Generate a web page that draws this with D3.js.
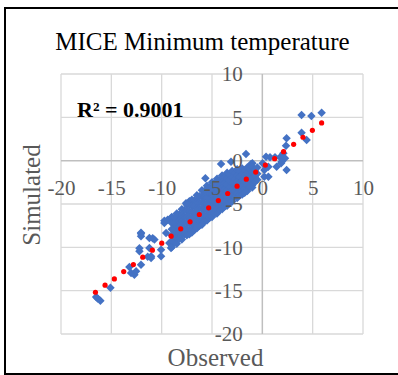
<!DOCTYPE html>
<html>
<head>
<meta charset="utf-8">
<script src="https://cdn.jsdelivr.net/npm/d3@7"></script>
<style>
  html, body { margin: 0; padding: 0; background: #fff; }
  svg { display: block; }
</style>
</head>
<body>
<svg id="chart" width="398" height="375"></svg>
<script>
// ---- data ----
const chartTitle = "MICE Minimum temperature";
const xLabel = "Observed";
const yLabel = "Simulated";
const r2Label = "R² = 0.9001";
const xTicks = [-20, -15, -10, -5, 0, 5, 10];
const yTicks = [-20, -15, -10, -5, 0, 5, 10];

// scattered points [observed, simulated]
const scatteredPoints = [
  [3.90,5.27],[4.87,5.16],[5.89,5.54],[3.90,3.23],[4.40,2.39],[2.41,2.58],[2.35,1.73],
  [2.09,0.85],[1.76,0.39],[1.26,0.39],[0.76,0.39],[2.25,0.28],[1.92,-0.12],[1.42,-0.69],
  [2.41,-1.07],[0.60,-0.69],[0.60,-1.85],[0.37,0.46],[0.03,-0.30],[0.20,-1.07],[0.20,-1.85],
  [1.86,-0.30],[-1.62,0.77],[-4.10,-0.38],[-3.11,-0.12],[-1.12,-0.38],[-0.99,-0.30],
  [-2.58,-1.27],[-5.66,-2.03],[-2.61,-1.45],[-7.58,-4.92],[-7.25,-4.69],[-9.07,-6.65],
  [-9.73,-6.92],[-10.89,-8.95],[-12.05,-8.31],[-12.21,-10.11],[-11.39,-11.08],
  [-16.51,-15.73],[-16.36,-15.90],[-16.09,-16.15],[-15.09,-14.67],[-13.21,-12.27],
  [-13.04,-12.96],[-12.71,-13.15],[-12.54,-12.76],[-12.05,-12.00],[-12.21,-10.45],
  [-12.05,-8.72],[-12.05,-8.42],[-11.22,-8.92],[-10.72,-9.11],[-11.22,-10.07],
  [-11.05,-11.03],[-11.05,-11.23],[-10.06,-10.27],[-10.06,-11.03],[-9.73,-7.19],
  [-9.40,-6.81],[-9.56,-8.34],[-9.24,-9.50],[-9.07,-10.07]
];

// dense cluster: observed value per column, simulated values in that column
const clusterObserved = [
  -9.0,-8.75,-8.5,-8.25,-8.0,-7.75,-7.5,-7.25,-7.0,-6.75,-6.5,-6.25,-6.0,-5.75,-5.5,-5.25,
  -5.0,-4.75,-4.5,-4.25,-4.0,-3.75,-3.5,-3.25,-3.0,-2.75,-2.5,-2.25,-2.0,-1.75,-1.5,-1.25,
  -1.0,-0.75,-0.5
];
const clusterSimulated = [
  [-6.5,-7.2,-7.9,-8.6,-9.3,-10.0],
  [-6.6,-7.3,-8.0,-8.7,-9.4],
  [-6.1,-6.8,-7.5,-8.2,-8.9,-9.6],
  [-6.2,-6.9,-7.6,-8.3,-9.0],
  [-5.6,-6.3,-7.0,-7.7,-8.4,-9.1],
  [-5.7,-6.4,-7.1,-7.8,-8.5],
  [-5.1,-5.8,-6.5,-7.2,-7.9,-8.6],
  [-5.1,-5.8,-6.5,-7.2,-7.9,-8.5],
  [-4.5,-5.2,-5.9,-6.6,-7.3,-8.0,-8.3],
  [-4.6,-5.3,-6.0,-6.7,-7.4,-8.0],
  [-4.0,-4.7,-5.4,-6.1,-6.8,-7.5,-7.8],
  [-4.1,-4.8,-5.5,-6.2,-6.9,-7.5],
  [-3.4,-4.1,-4.8,-5.5,-6.2,-6.9,-7.4],
  [-3.5,-4.2,-4.9,-5.6,-6.3,-7.0],
  [-2.9,-3.6,-4.3,-5.0,-5.7,-6.4,-6.9],
  [-3.1,-3.8,-4.5,-5.2,-5.9,-6.6],
  [-2.5,-3.2,-3.9,-4.6,-5.3,-6.0,-6.5],
  [-2.6,-3.3,-4.0,-4.7,-5.4,-6.1],
  [-2.1,-2.8,-3.5,-4.2,-4.9,-5.6,-6.1],
  [-2.3,-3.0,-3.7,-4.4,-5.1,-5.7],
  [-1.7,-2.4,-3.1,-3.8,-4.5,-5.2,-5.6],
  [-1.9,-2.6,-3.3,-4.0,-4.7,-5.3],
  [-1.4,-2.1,-2.8,-3.5,-4.2,-4.9,-5.2],
  [-1.6,-2.3,-3.0,-3.7,-4.4,-4.9],
  [-1.2,-1.9,-2.6,-3.3,-4.0,-4.7],
  [-1.4,-2.1,-2.8,-3.5,-4.2],
  [-1.0,-1.7,-2.4,-3.1,-3.8,-4.3],
  [-1.2,-1.9,-2.6,-3.3,-4.0],
  [-0.9,-1.6,-2.3,-3.0,-3.6,-3.9],
  [-1.1,-1.8,-2.5,-3.2,-3.7],
  [-0.8,-1.5,-2.2,-2.9,-3.5],
  [-1.0,-1.7,-2.4,-3.0],
  [-0.7,-1.4,-2.1,-2.8,-3.1],
  [-1.1,-1.8,-2.5],
  [-0.8,-1.5,-2.2]
];

// red series
const redObserved = [-16.58,-15.62,-14.70,-13.77,-12.81,-11.88,-10.92,-9.99,-9.06,-8.11,-7.18,-6.26,-5.33,-4.37,-3.44,-2.51,-1.59,-0.66,0.30,1.22,2.11,3.11,4.04,4.97,5.89];
const redSimulated = [-15.18,-14.37,-13.64,-12.80,-11.99,-11.14,-10.33,-9.52,-8.71,-7.86,-7.06,-6.21,-5.44,-4.60,-3.79,-2.94,-2.13,-1.32,-0.51,0.23,1.04,1.89,2.70,3.50,4.35];

// ---- build ----
const FONT = '"Liberation Serif", "Times New Roman", serif';
const bluePoints = scatteredPoints.slice();
clusterObserved.forEach((xv, i) => clusterSimulated[i].forEach(yv => bluePoints.push([xv, yv])));
const redPoints = redObserved.map((xv, i) => [xv, redSimulated[i]]);

const svg = d3.select("#chart");
const x = d3.scaleLinear().domain([-20, 10]).range([61, 363]);
const y = d3.scaleLinear().domain([-20, 10]).range([334, 74]);

// border
svg.append("path")
  .attr("d", "M398,8 H5 V374 H398")
  .attr("fill", "none").attr("stroke", "#000").attr("stroke-width", 2);

// gridlines
const grid = svg.append("g");
grid.selectAll("line.v").data(xTicks.filter(d => d !== 0)).join("line")
  .attr("x1", d => x(d)).attr("x2", d => x(d)).attr("y1", y(10)).attr("y2", y(-20))
  .attr("stroke", "#d9d9d9").attr("stroke-width", 1.3);
grid.selectAll("line.h").data(yTicks.filter(d => d !== 0)).join("line")
  .attr("y1", d => y(d)).attr("y2", d => y(d)).attr("x1", x(-20)).attr("x2", x(10))
  .attr("stroke", "#d9d9d9").attr("stroke-width", 1.3);
// zero axes lines
svg.append("line").attr("x1", x(-20)).attr("x2", x(10)).attr("y1", y(0)).attr("y2", y(0))
  .attr("stroke", "#bfbfbf").attr("stroke-width", 1.5);
svg.append("line").attr("x1", x(0)).attr("x2", x(0)).attr("y1", y(10)).attr("y2", y(-20))
  .attr("stroke", "#bfbfbf").attr("stroke-width", 1.5);

// blue diamonds
const diamond = d3.symbol().type(d3.symbolSquare).size(36);
svg.append("g").selectAll("path").data(bluePoints).join("path")
  .attr("d", diamond)
  .attr("transform", d => `translate(${x(d[0])},${y(d[1])}) rotate(45)`)
  .attr("fill", "#4472C4");

// red dots
svg.append("g").selectAll("circle").data(redPoints).join("circle")
  .attr("cx", d => x(d[0])).attr("cy", d => y(d[1])).attr("r", 2.6)
  .attr("fill", "#FF0000");

// axes tick labels (hyphen-minus like the reference)
const fmt = d => String(d);
const xAxis = d3.axisBottom(x).tickValues(xTicks).tickSize(0).tickPadding(19.5).tickFormat(fmt);
const gx = svg.append("g").attr("transform", `translate(0,${y(0)})`).call(xAxis);
gx.select(".domain").remove();
gx.selectAll("text").style("font-size", "21px").style("fill", "#595959").style("font-family", FONT);

const yAxis = d3.axisLeft(y).tickValues(yTicks).tickSize(0).tickPadding(19.5).tickFormat(fmt);
const gy = svg.append("g").attr("transform", `translate(${x(0)},0)`).call(yAxis);
gy.select(".domain").remove();
gy.selectAll("text").style("font-size", "21px").style("fill", "#595959").style("font-family", FONT);

// title
svg.append("text").attr("x", 202.5).attr("y", 50).attr("text-anchor", "middle")
  .style("font-family", FONT).style("font-size", "25px").style("fill", "#000").text(chartTitle);

// R2
svg.append("text").attr("x", 77).attr("y", 117)
  .style("font-family", FONT).style("font-size", "22px").style("font-weight", "bold")
  .style("fill", "#000").text(r2Label);

// axis titles
svg.append("text").attr("x", 215.5).attr("y", 366).attr("text-anchor", "middle")
  .style("font-family", FONT).style("font-size", "25px").style("fill", "#595959").text(xLabel);
svg.append("text").attr("transform", "translate(40,195) rotate(-90)").attr("text-anchor", "middle")
  .style("font-family", FONT).style("font-size", "25px").style("fill", "#595959").text(yLabel);
</script>
</body>
</html>
